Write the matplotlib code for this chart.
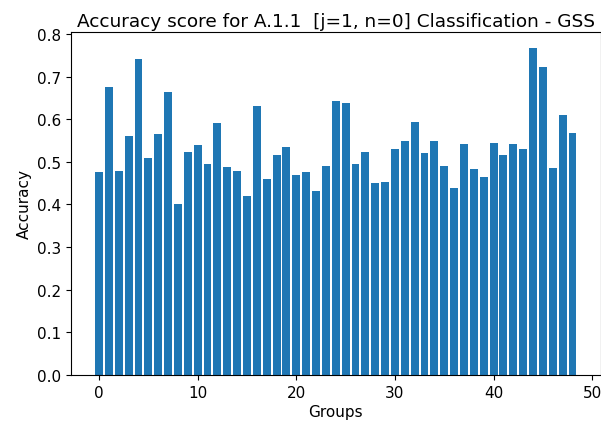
import matplotlib
matplotlib.use("Agg")
import matplotlib.pyplot as plt
import numpy as np

groups = list(range(49))
accuracy = [0.476, 0.675, 0.479, 0.561, 0.742, 0.509, 0.565, 0.664, 0.402, 0.523,
            0.539, 0.494, 0.590, 0.487, 0.479, 0.420, 0.630, 0.460, 0.517, 0.535,
            0.469, 0.476, 0.432, 0.491, 0.642, 0.637, 0.494, 0.523, 0.450, 0.453,
            0.531, 0.549, 0.593, 0.521, 0.549, 0.491, 0.439, 0.543, 0.483, 0.464,
            0.545, 0.517, 0.542, 0.531, 0.767, 0.722, 0.486, 0.609, 0.568]
title = "Accuracy score for A.1.1  [j=1, n=0] Classification - GSS"

fig = plt.figure(figsize=(6.01, 4.27), dpi=100)
W, H = 601, 427
left, right, top, bottom = 71, 600.5, 32.7, 376
ax = fig.add_axes([left / W, (H - bottom) / H, (right - left) / W, (bottom - top) / H])
ax.bar(groups, accuracy, color="#1f77b4")
ax.set_title(title, fontsize=13.3, pad=4)
ax.set_xlabel("Groups", fontsize=11, labelpad=3)
ax.set_ylabel("Accuracy", fontsize=11)
ax.tick_params(labelsize=11)
ax.set_yticks(np.arange(0, 0.81, 0.1))
fig.savefig("out.png", dpi=100)
